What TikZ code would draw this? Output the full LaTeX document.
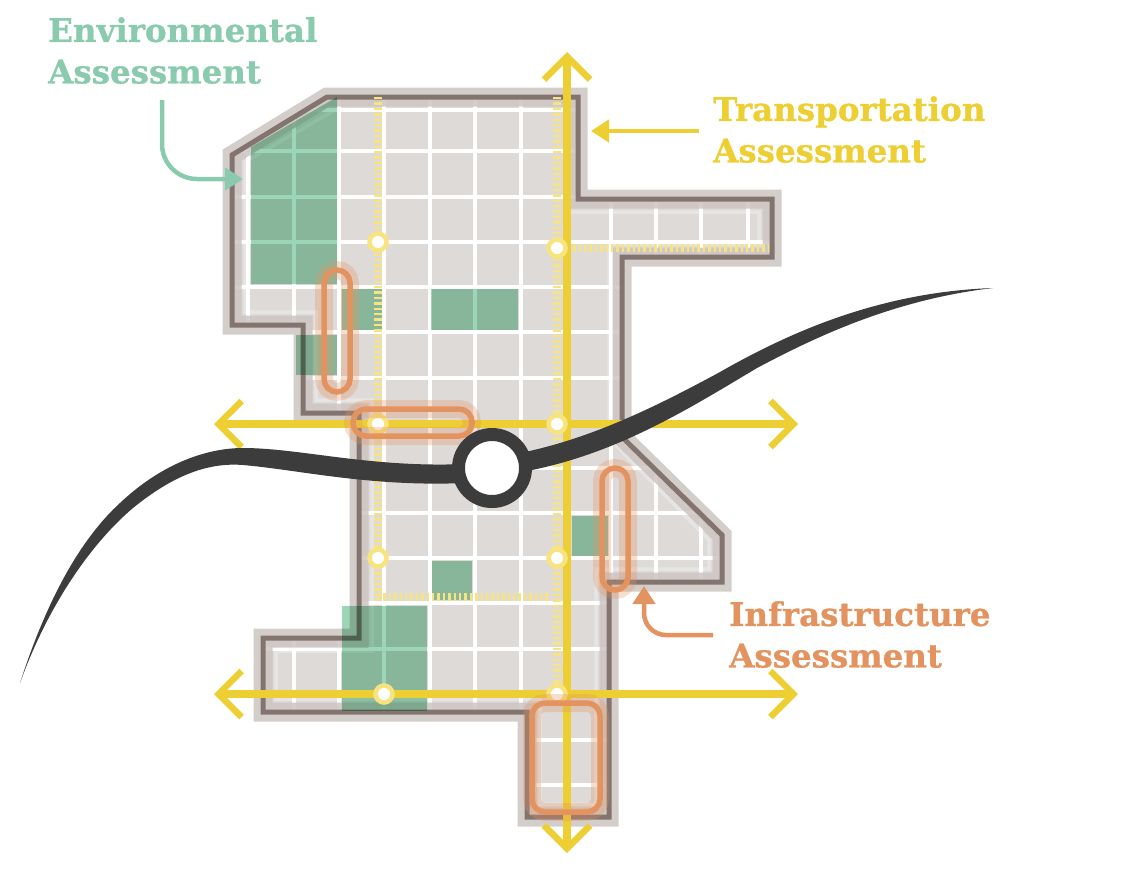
\documentclass[tikz,border=0pt]{standalone}
\usepackage{xcolor}
\usepackage{fontspec}
\usetikzlibrary{arrows.meta}
\setmainfont{DejaVu Serif}[BoldFeatures={FakeBold=0.9}]
\definecolor{plotfill}{HTML}{DEDAD8}
\definecolor{plotedge}{HTML}{83746F}
\definecolor{plothalo}{HTML}{CDC5C2}
\definecolor{envgreen}{HTML}{9DD5B8}
\definecolor{envtext}{HTML}{8ACBAE}
\definecolor{roadyel}{HTML}{EDCF34}
\definecolor{dotyel}{HTML}{F8E47E}
\definecolor{infraor}{HTML}{E3935F}
\definecolor{riverdk}{HTML}{3C3C3C}
\newcommand{\plotpath}{(327,97) -- (578,97) -- (578,199) -- (772,199) -- (772,257) -- (622,257) -- (622,437) -- (722,535) -- (722,582) -- (609,582) -- (609,817) -- (527,817) -- (527,712) -- (263,712) -- (263,638) -- (359,638) -- (359,413) -- (303,413) -- (303,325) -- (232,325) -- (232,155) -- cycle}
\newcommand{\insetpath}{(335,110) -- (565,110) -- (565,212) -- (759,212) -- (759,244) -- (609,244) -- (609,438) -- (709,540) -- (709,569) -- (596,569) -- (596,804) -- (540,804) -- (540,699) -- (276,699) -- (276,651) -- (372,651) -- (372,400) -- (316,400) -- (316,312) -- (245,312) -- (245,162) -- cycle}
\begin{document}
\begin{tikzpicture}[x=1pt,y=-1pt,line cap=butt,line join=miter,
    road/.style={roadyel,line width=8pt,{Straight Barb[length=23pt,width=46pt,line width=6.5pt]}-{Straight Barb[length=23pt,width=46pt,line width=6.5pt]}},
    dotted road/.style={dotyel,line width=7.5pt,dash pattern=on 2.4pt off 3pt},
    junction/.style={circle,draw=dotyel,fill=white,line width=4.5pt,minimum size=17pt,inner sep=0pt,outer sep=0pt},
    patch/.style={envgreen,blend mode=multiply},
    pill/.style={infraor,line width=5.5pt,rounded corners=13pt},
    pill halo/.style={infraor,opacity=.3,line width=18pt,rounded corners=13pt},
    callout/.style={line width=4.5pt,-{Triangle[length=18pt,width=22pt]}},
    assess/.style={font=\bfseries\fontsize{32.5}{41.5}\selectfont,align=left,anchor=north west,inner sep=0pt}]
  \useasboundingbox (0,0) rectangle (1147,887);
  \fill[plotfill] \plotpath;
  \begin{scope}
    \clip \plotpath;
    \foreach \gx in {248,294,339,384,430,475,521,566,611,656,701,748}
      \draw[white,line width=3.6pt] (\gx,80) -- (\gx,830);
    \foreach \gy in {110,151,197,242,287,332,378,423,468,513,558,603,649,694,740,785}
      \draw[white,line width=3.6pt] (220,\gy) -- (780,\gy);
    \draw[white,opacity=.3,line width=3.5pt] \insetpath;
  \end{scope}
  \draw[plothalo,opacity=.85,line width=19pt] \plotpath;
  \draw[plotedge,line width=5pt] \plotpath;
  % green patches
  \fill[patch] (251,147) -- (337,97) -- (337,284) -- (251,284) -- cycle;
  \fill[patch] (342,289) rectangle (382,330);
  \fill[patch] (431,289) rectangle (518,330);
  \fill[patch] (296,335) rectangle (337,375);
  \fill[patch] (572,516) rectangle (608,556);
  \fill[patch] (432,561) rectangle (472,600);
  \fill[patch] (342,606) rectangle (427,711);
  % dotted local streets
  \draw[dotted road] (378,97) -- (378,600);
  \draw[dotted road] (557,97) -- (557,694);
  \draw[dotted road] (378,597) -- (550,597);
  \draw[dotted road] (557,248) -- (768,248);
  % main roads
  \draw[road] (567,52) -- (567,853);
  \draw[road] (214,424) -- (798,424);
  \draw[road] (214,694) -- (798,694);
  \node[junction] (j1) at (378,242) {};
  \node[junction] (j2) at (557,248) {};
  \node[junction] (j3) at (378,424) {};
  \node[junction] (j4) at (557,424) {};
  \node[junction] (j5) at (378,558) {};
  \node[junction] (j6) at (557,558) {};
  \node[junction] (j7) at (384,694) {};
  \node[junction] (j8) at (557,694) {};
  % infrastructure pills
  \foreach \xa/\ya/\xb/\yb in {324/270/350/392,353/409/472/436,602/468/628/590,532/703/600/812}{
    \draw[pill halo] (\xa,\ya) rectangle (\xb,\yb);
    \draw[pill] (\xa,\ya) rectangle (\xb,\yb);
  }
  % river
  \fill[riverdk] (20,683) .. controls (50,590) and (85,535) .. (120,503)
    .. controls (160,465) and (205,448) .. (243,448)
    .. controls (300,448) and (370,468) .. (465,464) -- (465,483)
    .. controls (370,487) and (300,470) .. (243,465)
    .. controls (205,462) and (170,478) .. (133,508)
    .. controls (95,540) and (50,600) .. (20,683) -- cycle;
  \fill[riverdk] (525,452) .. controls (590,438) and (650,410) .. (720,372)
    .. controls (790,332) and (880,292) .. (993,288)
    .. controls (890,300) and (810,340) .. (757,368)
    .. controls (690,408) and (620,452) .. (532,470) -- cycle;
  \node[circle,draw=riverdk,fill=white,line width=13pt,minimum size=67pt,inner sep=0pt,outer sep=0pt] (station) at (492,468) {};
  % labels
  \node[assess,text=envtext] (envlabel) at (48,17) {Environmental\\Assessment};
  \node[assess,text=roadyel] (translabel) at (713,96) {Transportation\\Assessment};
  \node[assess,text=infraor] (infralabel) at (729,601) {Infrastructure\\Assessment};
  \coordinate (envfrom) at (162,100);
  \coordinate (envto) at (243,179);
  \coordinate (transfrom) at (699,131);
  \coordinate (transto) at (591,131);
  \coordinate (infrafrom) at (713,635);
  \coordinate (infrato) at (644,586);
  \draw[callout,envtext,rounded corners=35pt] (envfrom) -- (162,179) -- (envto);
  \draw[callout,roadyel] (transfrom) -- (transto);
  \draw[callout,infraor,rounded corners=22pt] (infrafrom) -- (644,635) -- (infrato);
\end{tikzpicture}
\end{document}
